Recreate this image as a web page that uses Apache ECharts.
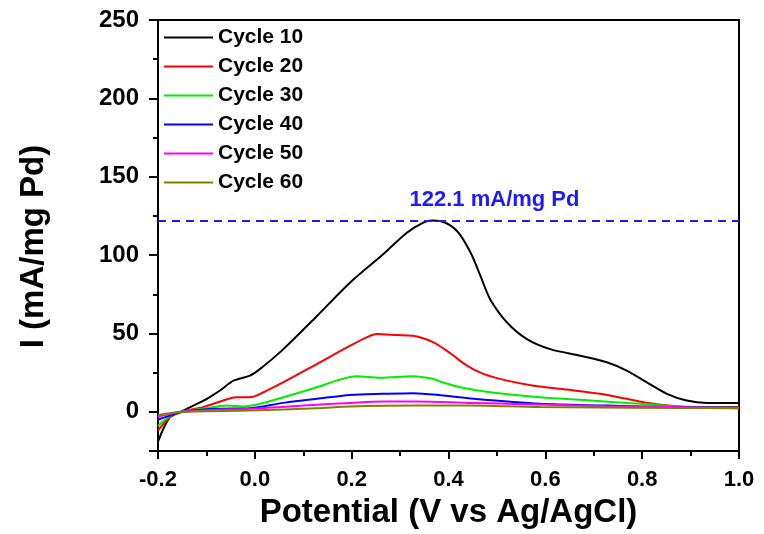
<!DOCTYPE html>
<html>
<head>
<meta charset="utf-8">
<script src="https://cdn.jsdelivr.net/npm/echarts@6/dist/echarts.min.js"></script>
<style>html,body{margin:0;padding:0;background:#fff;}#c{width:764px;height:534px;}</style>
</head>
<body>
<div id="c"></div>
<script>
// ---- data ----
const seriesNames = ['Cycle 10', 'Cycle 20', 'Cycle 30', 'Cycle 40', 'Cycle 50', 'Cycle 60'];
const seriesColors = ['#000000', '#ff0000', '#00ee00', '#0000ff', '#ff00ff', '#808000'];

const cycle10V = [-0.2, -0.175, -0.148, -0.127, -0.099, -0.072, -0.044, -0.01, 0.011, 0.059, 0.128, 0.197, 0.265, 0.314, 0.348, 0.365, 0.383, 0.417, 0.445, 0.466, 0.486, 0.521, 0.562, 0.61, 0.672, 0.727, 0.768, 0.809, 0.851, 0.892, 0.934, 1.0];
const cycle10I = [-19, -3.2, 0.8, 4, 8.3, 13.6, 19.9, 23.1, 27.4, 40, 61, 82.5, 100.5, 114.3, 120.7, 122.1, 121.7, 115.5, 102, 86.7, 71.9, 57, 46.4, 40, 35.8, 31.6, 26.3, 18.9, 11.5, 7.2, 5.7, 5.7];

const cycle20V = [-0.2, -0.175, -0.148, -0.107, -0.065, -0.038, -0.01, 0.018, 0.059, 0.128, 0.197, 0.231, 0.252, 0.293, 0.327, 0.369, 0.403, 0.438, 0.472, 0.521, 0.576, 0.645, 0.713, 0.768, 0.823, 0.879, 1.0];
const cycle20I = [-12, -3.4, 0.2, 3, 7.2, 9.3, 9.3, 12.5, 18.9, 30.5, 42.2, 47.5, 49.6, 49, 48.5, 44.3, 37.5, 29.5, 24.2, 19.9, 16.7, 14.2, 11.5, 8.3, 5.1, 3.4, 3];

const cycle30V = [-0.2, -0.175, -0.148, -0.107, -0.058, -0.024, 0.011, 0.059, 0.128, 0.169, 0.21, 0.259, 0.327, 0.369, 0.383, 0.424, 0.486, 0.589, 0.693, 0.796, 0.899, 1.0];
const cycle30I = [-9, -2.7, 0.2, 1.9, 4, 3.4, 5.1, 9.3, 15.7, 19.9, 22.7, 21.8, 22.7, 21, 19.3, 15.7, 12.5, 9.3, 7.2, 5.1, 3, 2.6];

const cycle40V = [-0.2, -0.175, -0.148, -0.079, -0.01, 0.059, 0.128, 0.197, 0.265, 0.327, 0.389, 0.451, 0.589, 0.727, 0.865, 1.0];
const cycle40I = [-5, -2.3, 0, 1.9, 2.3, 5.7, 8.3, 10.8, 11.5, 11.9, 10.4, 8.3, 5.1, 4, 3, 2.6];

const cycle50V = [-0.2, -0.148, -0.079, -0.01, 0.128, 0.197, 0.265, 0.334, 0.441, 0.521, 0.727, 1.0];
const cycle50I = [-3, 0, 1.3, 1.9, 4.5, 5.7, 6.6, 6.6, 5.7, 5.1, 3.6, 2.3];

const cycle60V = [-0.2, -0.148, -0.01, 0.128, 0.197, 0.334, 0.441, 0.589, 1.0];
const cycle60I = [-2, 0, 0.8, 2.3, 3.4, 4, 4, 3, 2.3];

const peakValue = 122.1;
const peakLabel = '122.1 mA/mg Pd';
const xTitle = 'Potential (V vs Ag/AgCl)';
const yTitle = 'I (mA/mg Pd)';

// ---- chart ----
const allV = [cycle10V, cycle20V, cycle30V, cycle40V, cycle50V, cycle60V];
const allI = [cycle10I, cycle20I, cycle30I, cycle40I, cycle50I, cycle60I];
const FONT = '"Liberation Sans", Arial, sans-serif';

const series = seriesNames.map((name, k) => ({
  name: name,
  type: 'line',
  xAxisIndex: 0,
  yAxisIndex: 0,
  data: allV[k].map((v, i) => [v, allI[k][i]]),
  smooth: 0.3,
  symbol: 'none',
  lineStyle: { color: seriesColors[k], width: 2 },
  itemStyle: { color: seriesColors[k] },
  z: 2 + k
}));

series[0].markLine = {
  silent: true,
  symbol: 'none',
  animation: false,
  lineStyle: { color: '#1a1aff', width: 2, type: [8, 6] },
  label: {
    show: true,
    position: 'insideMiddleTop',
    formatter: peakLabel,
    color: '#1a1aff',
    fontFamily: FONT,
    fontWeight: 'bold',
    fontSize: 22,
    distance: 10,
    offset: [46, 0]
  },
  data: [{ yAxis: peakValue }]
};

const chart = echarts.init(document.getElementById('c'), null, { renderer: 'canvas' });
chart.setOption({
  animation: false,
  backgroundColor: '#ffffff',
  grid: { left: 158, right: 25, top: 20, bottom: 82, show: true, borderColor: '#000', borderWidth: 2, backgroundColor: 'transparent' },
  legend: {
    orient: 'vertical',
    left: 164,
    top: 27,
    padding: 0,
    icon: 'rect',
    itemWidth: 49,
    itemHeight: 2,
    itemGap: 8,
    data: seriesNames,
    textStyle: { fontFamily: FONT, fontWeight: 'bold', fontSize: 21, lineHeight: 21, color: '#000' }
  },
  xAxis: [
    {
      type: 'value', position: 'bottom', min: -0.2, max: 1.0, interval: 0.2,
      splitLine: { show: false },
      axisLine: { show: true, onZero: false, lineStyle: { color: '#000', width: 2 } },
      axisTick: { show: true, length: 8, lineStyle: { color: '#000', width: 2 } },
      axisLabel: { margin: 18, fontFamily: FONT, fontWeight: 'bold', fontSize: 22, color: '#000', formatter: v => v.toFixed(1) },
      name: xTitle, nameLocation: 'middle', nameGap: 45,
      nameTextStyle: { fontFamily: FONT, fontWeight: 'bold', fontSize: 33, color: '#000' }
    },
    {
      type: 'value', position: 'bottom', min: -0.2, max: 1.0, interval: 0.1,
      splitLine: { show: false },
      axisLine: { show: false, onZero: false },
      axisTick: { show: true, length: 5, lineStyle: { color: '#000', width: 2 } },
      axisLabel: { show: false }
    }
  ],
  yAxis: [
    {
      type: 'value', position: 'left', min: -25, max: 250, splitNumber: 5,
      splitLine: { show: false },
      axisLine: { show: true, onZero: false, lineStyle: { color: '#000', width: 2 } },
      axisTick: { show: true, length: 9, lineStyle: { color: '#000', width: 2 } },
      axisLabel: { margin: 19, fontFamily: FONT, fontWeight: 'bold', fontSize: 24, color: '#000', formatter: v => (v < 0 ? '' : String(v)) },
      name: yTitle, nameLocation: 'middle', nameGap: 108,
      nameTextStyle: { fontFamily: FONT, fontWeight: 'bold', fontSize: 33, color: '#000', padding: [0, 22, 0, 0] }
    },
    {
      type: 'value', position: 'left', min: -25, max: 250, interval: 25,
      splitLine: { show: false },
      axisLine: { show: false, onZero: false },
      axisTick: { show: true, length: 5, lineStyle: { color: '#000', width: 2 } },
      axisLabel: { show: false }
    }
  ],
  series: series
});
</script>
</body>
</html>
